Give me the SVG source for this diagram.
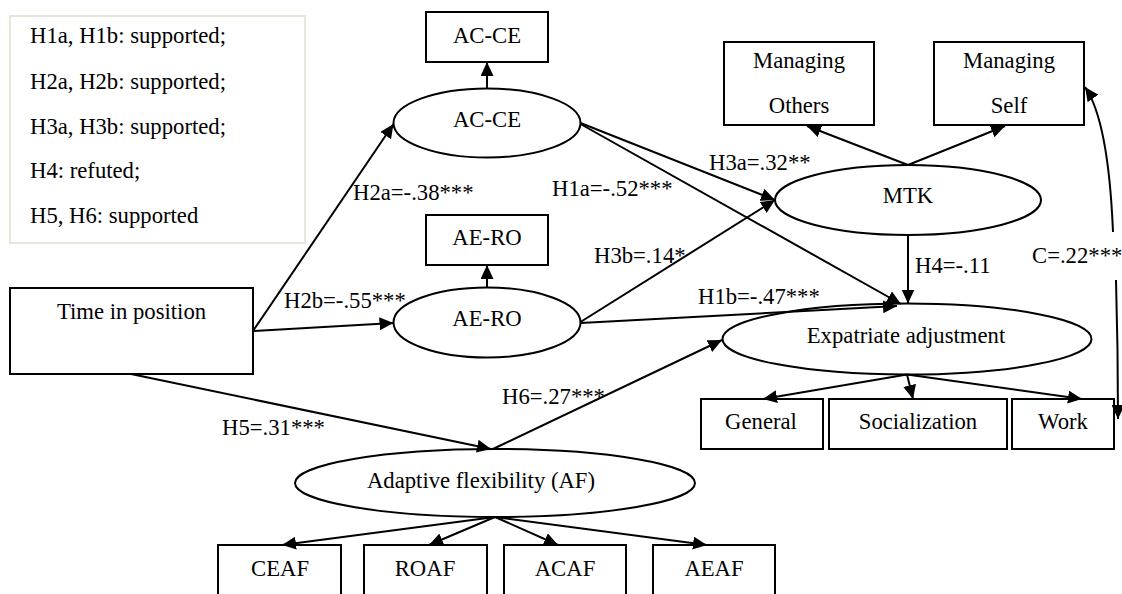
<svg xmlns="http://www.w3.org/2000/svg" width="1122" height="594" viewBox="0 0 1122 594" font-family="'Liberation Serif', 'DejaVu Serif', serif" font-size="22.7">
<defs>
<marker id="arr" markerUnits="userSpaceOnUse" markerWidth="15" markerHeight="13" refX="14" refY="6.5" orient="auto">
<path d="M0,0 L14,6.5 L0,13 z" fill="#000"/>
</marker>
<style>
text{font-family:'Liberation Serif','DejaVu Serif',serif;font-size:22.7px;fill:#000}
.c{text-anchor:middle}
.box{fill:none;stroke:#000;stroke-width:2}
.ell{fill:none;stroke:#000;stroke-width:2}
.ln{fill:none;stroke:#000;stroke-width:2;marker-end:url(#arr)}
.leg{fill:#fff;stroke:#e8e5d9;stroke-width:2}
</style>
</defs>
<rect width="1122" height="594" fill="#fff"/>
<g id="legend">
<rect class="leg" x="10" y="16" width="295" height="227"/>
<text x="30" y="43">H1a, H1b: supported;</text>
<text x="30" y="89">H2a, H2b: supported;</text>
<text x="30" y="134">H3a, H3b: supported;</text>
<text x="30" y="178">H4: refuted;</text>
<text x="30" y="223">H5, H6: supported</text>
</g>
<g id="connectors">
<line class="ln" x1="253" y1="331" x2="393.5" y2="124"/>
<line class="ln" x1="253" y1="331" x2="393.5" y2="323"/>
<line class="ln" x1="131" y1="374" x2="491" y2="449"/>
<line class="ln" x1="487" y1="88.5" x2="487" y2="62"/>
<line class="ln" x1="487" y1="287.5" x2="487" y2="265"/>
<line class="ln" x1="580.5" y1="123" x2="775" y2="200"/>
<line class="ln" x1="580.5" y1="124" x2="901" y2="304"/>
<line class="ln" x1="580.5" y1="322" x2="775" y2="200"/>
<line class="ln" x1="580.5" y1="323" x2="897" y2="306"/>
<line class="ln" x1="908" y1="165" x2="807" y2="126"/>
<line class="ln" x1="908" y1="165" x2="1005" y2="126"/>
<line class="ln" x1="908" y1="235" x2="908" y2="303.5"/>
<line class="ln" x1="493" y1="449" x2="722" y2="340"/>
<line class="ln" x1="907" y1="374.5" x2="763" y2="399"/>
<line class="ln" x1="907" y1="374.5" x2="913" y2="399"/>
<line class="ln" x1="907" y1="374.5" x2="1082" y2="399"/>
<line class="ln" x1="495" y1="517" x2="282" y2="545"/>
<line class="ln" x1="495" y1="517" x2="429" y2="545"/>
<line class="ln" x1="495" y1="517" x2="558" y2="545"/>
<line class="ln" x1="495" y1="517" x2="707" y2="545"/>
<path class="ln" d="M1113,232 C1110,160 1101,110 1085,87"/>
<path class="ln" d="M1116,280 Q1118,350 1118,419"/>
<text x="353" y="200">H2a=-.38***</text>
<text x="552" y="196">H1a=-.52***</text>
<text x="709" y="170">H3a=.32**</text>
<text x="594" y="263">H3b=.14*</text>
<text x="284" y="308">H2b=-.55***</text>
<text x="698" y="304">H1b=-.47***</text>
<text x="915" y="273">H4=-.11</text>
<text x="1032" y="263">C=.22***</text>
<text x="502" y="404">H6=.27***</text>
<text x="222" y="435">H5=.31***</text>
</g>
<g id="acce_rect"><rect class="box" x="426" y="12" width="122" height="50"/><text class="c" x="487" y="43">AC-CE</text></g>
<g id="acce"><ellipse class="ell" cx="487" cy="123" rx="93.5" ry="34.5"/><text class="c" x="487" y="127">AC-CE</text></g>
<g id="aero_rect"><rect class="box" x="426" y="215" width="122" height="50"/><text class="c" x="487" y="245">AE-RO</text></g>
<g id="aero"><ellipse class="ell" cx="487" cy="322.5" rx="93.5" ry="35"/><text class="c" x="487" y="326">AE-RO</text></g>
<g id="time"><rect class="box" x="10" y="288" width="243" height="86"/><text class="c" x="131.5" y="319">Time in position</text></g>
<g id="mtk"><ellipse class="ell" cx="908" cy="200" rx="133" ry="35"/><text class="c" x="908" y="203">MTK</text></g>
<g id="managing_others"><rect class="box" x="724" y="42" width="150" height="83"/><text class="c" x="799" y="68">Managing</text><text class="c" x="799" y="113">Others</text></g>
<g id="managing_self"><rect class="box" x="934" y="42" width="150" height="83"/><text class="c" x="1009" y="68">Managing</text><text class="c" x="1009" y="113">Self</text></g>
<g id="expat"><ellipse class="ell" cx="907" cy="339" rx="184.5" ry="35.5"/><text class="c" x="906" y="343">Expatriate adjustment</text></g>
<g id="general"><rect class="box" x="701" y="399" width="122" height="50"/><text class="c" x="761" y="429">General</text></g>
<g id="socialization"><rect class="box" x="829" y="399" width="178" height="50"/><text class="c" x="918" y="429">Socialization</text></g>
<g id="work"><rect class="box" x="1012" y="399" width="102" height="50"/><text class="c" x="1063" y="429">Work</text></g>
<g id="af"><ellipse class="ell" cx="495" cy="483" rx="200" ry="34"/><text class="c" x="481" y="488">Adaptive flexibility (AF)</text></g>
<g id="ceaf"><rect class="box" x="218" y="545" width="123" height="60"/><text class="c" x="280" y="576">CEAF</text></g>
<g id="roaf"><rect class="box" x="364" y="545" width="123" height="60"/><text class="c" x="425" y="576">ROAF</text></g>
<g id="acaf"><rect class="box" x="504" y="545" width="122" height="60"/><text class="c" x="565" y="576">ACAF</text></g>
<g id="aeaf"><rect class="box" x="653" y="545" width="122" height="60"/><text class="c" x="714" y="576">AEAF</text></g>
</svg>
